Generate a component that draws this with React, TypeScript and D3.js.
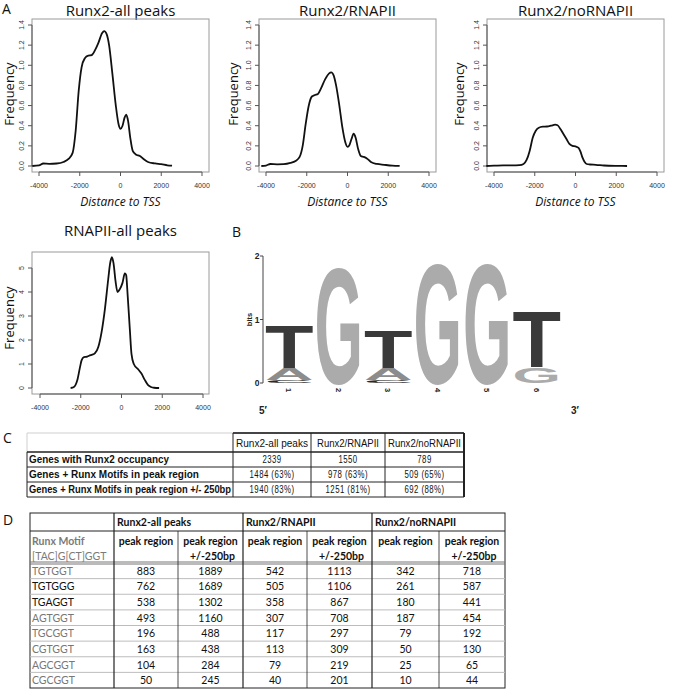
import React, { useEffect, useRef } from 'react';
import * as d3 from 'd3';

// ---- panel A data (density of peak distance to TSS) ----
const xTicks = [-4000, -2000, 0, 2000, 4000];
const yTicksRunx = [0, 0.2, 0.4, 0.6, 0.8, 1.0, 1.2, 1.4];
const yTicksPol = [0, 1, 2, 3, 4, 5];

const runx2AllPeaks: [number, number][] = [
  [-4330, 0], [-4000, 0.006], [-3790, 0.025], [-3500, 0.022], [-3135, 0.025], [-2800, 0.04],
  [-2550, 0.07], [-2350, 0.13], [-2200, 0.35], [-2050, 0.75], [-1910, 0.98], [-1750, 1.07],
  [-1580, 1.095], [-1420, 1.1], [-1250, 1.15], [-1090, 1.22], [-900, 1.32], [-800, 1.34],
  [-680, 1.31], [-560, 1.2], [-400, 0.92], [-230, 0.6], [-100, 0.42], [0, 0.37], [100, 0.4],
  [200, 0.48], [280, 0.51], [370, 0.45], [480, 0.28], [600, 0.15], [750, 0.115], [950, 0.1],
  [1100, 0.075], [1350, 0.04], [1700, 0.025], [2000, 0.018], [2300, 0.007], [2530, 0.003],
];
const runx2RNAPII: [number, number][] = [
  [-4230, 0], [-4000, 0.004], [-3790, 0.02], [-3450, 0.017], [-3135, 0.018], [-2800, 0.03],
  [-2550, 0.05], [-2350, 0.09], [-2200, 0.2], [-2050, 0.42], [-1900, 0.6], [-1750, 0.69],
  [-1600, 0.705], [-1450, 0.715], [-1300, 0.77], [-1100, 0.86], [-900, 0.92], [-800, 0.93],
  [-680, 0.9], [-560, 0.8], [-400, 0.6], [-250, 0.38], [-100, 0.23], [0, 0.19], [100, 0.21],
  [200, 0.27], [300, 0.32], [400, 0.28], [520, 0.17], [650, 0.1], [800, 0.09], [950, 0.075],
  [1150, 0.04], [1450, 0.02], [1800, 0.012], [2200, 0.004], [2560, 0.001],
];
const runx2NoRNAPII: [number, number][] = [
  [-4376, 0], [-4000, 0.003], [-3550, 0.007], [-3100, 0.006], [-2750, 0.008], [-2550, 0.02],
  [-2400, 0.06], [-2250, 0.15], [-2100, 0.28], [-1950, 0.35], [-1800, 0.38], [-1600, 0.39],
  [-1400, 0.392], [-1200, 0.4], [-1000, 0.41], [-880, 0.405], [-750, 0.37], [-600, 0.32],
  [-450, 0.27], [-300, 0.22], [-150, 0.2], [0, 0.195], [150, 0.18], [250, 0.14], [350, 0.08],
  [450, 0.04], [550, 0.02], [700, 0.015], [1000, 0.012], [1400, 0.005], [2000, 0.001], [2530, 0],
];
const rnapIIAllPeaks: [number, number][] = [
  [-2498, 0], [-2335, 0.04], [-2171, 0.32], [-2041, 0.85], [-1960, 1.15], [-1845, 1.29],
  [-1682, 1.31], [-1518, 1.37], [-1400, 1.4], [-1300, 1.45], [-1143, 1.7], [-980, 2.32],
  [-816, 3.28], [-653, 4.52], [-555, 5.21], [-473, 5.45], [-392, 5.2], [-294, 4.46], [-196, 4.0],
  [-82, 4.12], [49, 4.38], [163, 4.77], [229, 4.7], [294, 3.97], [408, 2.46], [490, 1.42],
  [604, 1.0], [816, 0.78], [980, 0.6], [1143, 0.34], [1306, 0.12], [1450, 0.04], [1600, 0.01], [1845, 0],
];

// ---- panel B: sequence logo (bits per letter, bottom to top) ----
const logoPositions = [1, 2, 3, 4, 5, 6];
const logoStacks: [string, number][][] = [
  [['C', 0.04], ['A', 0.2], ['T', 0.7]],
  [['G', 1.9]],
  [['C', 0.05], ['A', 0.19], ['T', 0.63]],
  [['G', 1.98]],
  [['G', 1.98]],
  [['G', 0.25], ['T', 0.93]],
];
const letterColors: Record<string, string> = { T: '#3a3a3a', G: '#ababab', A: '#8c8c8c', C: '#2a2a2a' };

// ---- panel C ----
const cHeaders = ['Runx2-all peaks', 'Runx2/RNAPII', 'Runx2/noRNAPII'];
const cRowLabels = [
  'Genes with Runx2 occupancy',
  'Genes + Runx Motifs in peak region',
  'Genes + Runx Motifs in peak region +/- 250bp',
];
const cValues = [
  ['2339', '1550', '789'],
  ['1484 (63%)', '978 (63%)', '509 (65%)'],
  ['1940 (83%)', '1251 (81%)', '692 (88%)'],
];

// ---- panel D ----
const dGroups = ['Runx2-all peaks', 'Runx2/RNAPII', 'Runx2/noRNAPII'];
const dMotifs = ['TGTGGT', 'TGTGGG', 'TGAGGT', 'AGTGGT', 'TGCGGT', 'CGTGGT', 'AGCGGT', 'CGCGGT'];
const dMotifDark = [false, true, true, false, false, false, false, false];
const dPeakAll = [883, 762, 538, 493, 196, 163, 104, 50];
const dWideAll = [1889, 1689, 1302, 1160, 488, 438, 284, 245];
const dPeakPol = [542, 505, 358, 307, 117, 113, 79, 40];
const dWidePol = [1113, 1106, 867, 708, 297, 309, 219, 201];
const dPeakNoPol = [342, 261, 180, 187, 79, 50, 25, 10];
const dWideNoPol = [718, 587, 441, 454, 192, 130, 65, 44];

const TITLE_FONT = "'Open Sans', 'Noto Sans', sans-serif";
const R_FONT = "'Liberation Sans', Arial, sans-serif";
const CAL = "Lato, 'Open Sans', sans-serif";

type PanelProps = {
  title: string; data: [number, number][]; box: [number, number, number, number];
  xr: [number, number]; yDomain: [number, number]; yRange: [number, number];
  yTicks: number[]; fmt: (v: number) => string; titleY: number; freqX: number; freqY: number;
  xlab: boolean;
};

function DensityPanel(p: PanelProps) {
  const [l, r, t, b] = p.box;
  const x = d3.scaleLinear().domain([-4000, 4000]).range(p.xr);
  const y = d3.scaleLinear().domain(p.yDomain).range(p.yRange);
  const line = d3.line<[number, number]>().x(d => x(d[0])).y(d => y(d[1])).curve(d3.curveMonotoneX);
  const cx = (l + r) / 2;
  return (
    <g>
      <text x={cx} y={p.titleY} textAnchor="middle" fontFamily={TITLE_FONT} fontSize={15} fill="#111">{p.title}</text>
      <rect x={l} y={t} width={r - l} height={b - t} fill="none" stroke="#9a9a9a" strokeWidth={1} />
      <line x1={x(xTicks[0])} x2={x(xTicks[xTicks.length - 1])} y1={b} y2={b} stroke="#555" />
      {xTicks.map(v => (
        <g key={v}>
          <line x1={x(v)} x2={x(v)} y1={b} y2={b + 4} stroke="#555" />
          <text x={x(v)} y={b + 16} textAnchor="middle" fontFamily={R_FONT} fontSize={7} fill="#333">{v}</text>
        </g>
      ))}
      <line x1={l} x2={l} y1={y(p.yTicks[0])} y2={y(p.yTicks[p.yTicks.length - 1])} stroke="#555" />
      {p.yTicks.map(v => (
        <g key={v}>
          <line x1={l - 4} x2={l} y1={y(v)} y2={y(v)} stroke="#555" />
          <text transform={`translate(${l - 8},${y(v)}) rotate(-90)`} textAnchor="middle" fontFamily={R_FONT} fontSize={7} fill="#333">{p.fmt(v)}</text>
        </g>
      ))}
      <text transform={`translate(${p.freqX},${p.freqY}) rotate(-90)`} textAnchor="middle" fontFamily={TITLE_FONT} fontSize={13} fill="#111">Frequency</text>
      {p.xlab && (
        <text x={cx} y={b + 34} textAnchor="middle" fontFamily={TITLE_FONT} fontStyle="italic" fontSize={12} fill="#111">Distance to TSS</text>
      )}
      <path d={line(p.data) || ''} fill="none" stroke="#111" strokeWidth={1.8} />
    </g>
  );
}

function Logo() {
  const ref = useRef<SVGGElement>(null);
  const xb = d3.scaleBand<number>().domain(logoPositions).range([265, 561]).paddingInner(0.02);
  const yb = d3.scaleLinear().domain([0, 2]).range([383, 256]);
  useEffect(() => {
    const g = d3.select(ref.current);
    g.selectAll('*').remove();
    logoStacks.forEach((stack, i) => {
      let base = 0;
      stack.forEach(([ch, h]) => {
        const x0 = xb(logoPositions[i]) as number;
        const w = xb.bandwidth();
        const yTop = yb(base + h);
        const yBot = yb(base);
        base += h;
        const txt = g.append('text')
          .attr('font-family', "'Liberation Sans', Arial, sans-serif")
          .attr('font-weight', 'bold')
          .attr('font-size', 100)
          .attr('fill', letterColors[ch])
          .text(ch);
        const bb = (txt.node() as SVGTextElement).getBBox();
        // map the cap-height band of the glyph onto the stack slot
        const inkTop = bb.y + bb.height * 0.158;
        const inkH = bb.height * 0.655;
        const sx = w / bb.width;
        const sy = (yBot - yTop) / inkH;
        txt.attr('transform', `translate(${x0 - bb.x * sx},${yTop - inkTop * sy}) scale(${sx},${sy})`);
      });
    });
  }, []);
  return (
    <g>
      <text x={232} y={237} fontFamily={TITLE_FONT} fontSize={14} fill="#111">B</text>
      <line x1={263} x2={263} y1={yb(2)} y2={yb(0)} stroke="#444" />
      {[0, 1, 2].map(v => (
        <g key={v}>
          <line x1={260} x2={263} y1={yb(v)} y2={yb(v)} stroke="#444" />
          <text x={259.5} y={yb(v) + 3} textAnchor="end" fontFamily={R_FONT} fontWeight="bold" fontSize={8.5} fill="#222">{v}</text>
        </g>
      ))}
      <text transform={`translate(252,${yb(1)}) rotate(-90)`} textAnchor="middle" fontFamily={R_FONT} fontWeight="bold" fontSize={7.5} fill="#222">bits</text>
      <g ref={ref} />
      {logoPositions.map(p => (
        <text key={p} transform={`translate(${(xb(p) as number) + xb.bandwidth() / 2 - 3},388) rotate(90)`} fontFamily={R_FONT} fontWeight="bold" fontSize={7.5} fill="#222">{p}</text>
      ))}
      <text x={263} y={414} textAnchor="middle" fontFamily={R_FONT} fontWeight="bold" fontSize={10} fill="#222">5′</text>
      <text x={575} y={414} textAnchor="middle" fontFamily={R_FONT} fontWeight="bold" fontSize={10} fill="#222">3′</text>
    </g>
  );
}

// condensed text: glyphs squeezed horizontally, like a narrow face
function Narrow({ x, y, anchor, bold, sx = 0.8, size = 10, children }: { x: number; y: number; anchor?: string; bold?: boolean; sx?: number; size?: number; children: React.ReactNode }) {
  return (
    <g transform={`translate(${x},${y}) scale(${sx},1)`}>
      <text textAnchor={anchor || 'start'} fontFamily={R_FONT} fontWeight={bold ? 'bold' : 'normal'} fontSize={size} letterSpacing={0.6} fill="#111">{children}</text>
    </g>
  );
}

function TableC() {
  const cols = [27, 233, 311, 385, 464];
  const rows = [433, 452, 467, 482, 497];
  const labelW = [140, 170, 202];
  const headW = [72, 62, 73];
  return (
    <g>
      <text x={3} y={443} fontFamily={TITLE_FONT} fontSize={14} fill="#111">C</text>
      <line x1={cols[0]} x2={cols[1]} y1={rows[0]} y2={rows[0]} stroke="#cfcfcf" />
      <line x1={cols[0]} x2={cols[0]} y1={rows[0]} y2={rows[1]} stroke="#cfcfcf" />
      <line x1={cols[1]} x2={cols[4]} y1={rows[0]} y2={rows[0]} stroke="#444" strokeWidth={2} />
      {rows.slice(1).map(y => (
        <line key={y} x1={cols[0]} x2={cols[4]} y1={y} y2={y} stroke="#222" strokeWidth={y === rows[1] ? 1.6 : 1} />
      ))}
      <line x1={cols[0]} x2={cols[0]} y1={rows[1]} y2={rows[4]} stroke="#222" />
      {cols.slice(1).map((x, i) => (
        <line key={x} x1={x} x2={x} y1={rows[0]} y2={rows[4]} stroke="#222" strokeWidth={i === 3 ? 2 : 1} />
      ))}
      {cHeaders.map((h, i) => (
        <text key={h} x={(cols[i + 1] + cols[i + 2]) / 2 - headW[i] / 2} y={rows[0] + 13.5} textLength={headW[i]} lengthAdjust="spacingAndGlyphs"
          fontFamily={R_FONT} fontSize={10} fill="#111">{h}</text>
      ))}
      {cRowLabels.map((lab, j) => (
        <text key={lab} x={cols[0] + 2} y={rows[j + 1] + 11} textLength={labelW[j]} lengthAdjust="spacingAndGlyphs"
          fontFamily={R_FONT} fontWeight="bold" fontSize={10} fill="#111">{lab}</text>
      ))}
      {cValues.map((row, j) => row.map((v, i) => (
        <Narrow key={`${j}-${i}`} x={(cols[i + 1] + cols[i + 2]) / 2} y={rows[j + 1] + 11} anchor="middle" sx={0.78}>{v}</Narrow>
      )))}
    </g>
  );
}

function TableD() {
  const cols = [30, 114, 178, 243, 307, 372, 439, 505];
  const top = 513;
  const groupBottom = 531;
  const headBottom = 563;
  const bottom = 688;
  const rowY = d3.scaleLinear().domain([0, dMotifs.length]).range([headBottom, bottom]);
  const colVals = [dPeakAll, dWideAll, dPeakPol, dWidePol, dPeakNoPol, dWideNoPol];
  return (
    <g>
      <text x={3} y={525} fontFamily={TITLE_FONT} fontSize={14} fill="#111">D</text>
      <rect x={cols[0]} y={top} width={cols[7] - cols[0]} height={bottom - top} fill="none" stroke="#222" />
      <line x1={cols[0]} x2={cols[7]} y1={groupBottom} y2={groupBottom} stroke="#222" />
      <line x1={cols[0]} x2={cols[7]} y1={headBottom - 1} y2={headBottom - 1} stroke="#777" />
      <line x1={cols[0]} x2={cols[7]} y1={headBottom + 1} y2={headBottom + 1} stroke="#777" />
      {dMotifs.slice(1).map((m, i) => (
        <line key={m} x1={cols[0]} x2={cols[7]} y1={rowY(i + 1)} y2={rowY(i + 1)} stroke="#bdbdbd" />
      ))}
      {cols.slice(1, 7).map((x, i) => (
        <line key={x} x1={x} x2={x} y1={i % 2 === 0 ? top : groupBottom} y2={bottom} stroke="#222" strokeWidth={i % 2 === 0 ? 1.2 : 0.8} />
      ))}
      {dGroups.map((g, i) => (
        <text key={g} x={cols[1 + i * 2] + 3} y={top + 12.5} fontFamily={CAL} fontWeight="bold" fontSize={10.5} fill="#111">{g}</text>
      ))}
      <text x={cols[0] + 2} y={545} fontFamily={CAL} fontWeight="bold" fontSize={10.5} fill="#7a7a7a">Runx Motif</text>
      <text x={cols[0] + 2} y={560} fontFamily={CAL} fontSize={10.5} fill="#7a7a7a">[TAC]G[CT]GGT</text>
      {[0, 1, 2, 3, 4, 5].map(i => (
        <g key={i}>
          <text x={(cols[i + 1] + cols[i + 2]) / 2} y={545} textAnchor="middle" fontFamily={CAL} fontWeight="bold" fontSize={10.5} fill="#111">peak region</text>
          {i % 2 === 1 && (
            <text x={(cols[i + 1] + cols[i + 2]) / 2 + 2} y={560} textAnchor="middle" fontFamily={CAL} fontWeight="bold" fontSize={10.5} fill="#111">+/-250bp</text>
          )}
        </g>
      ))}
      {dMotifs.map((m, j) => {
        const yc = (rowY(j) + rowY(j + 1)) / 2 + 4;
        return (
          <g key={m}>
            <text x={cols[0] + 2} y={yc} fontFamily={CAL} fontSize={10.5} fill={dMotifDark[j] ? '#111' : '#777'}>{m}</text>
            {colVals.map((vals, i) => (
              <text key={i} x={(cols[i + 1] + cols[i + 2]) / 2} y={yc} textAnchor="middle" fontFamily={CAL} fontSize={10.5} fill="#111">{vals[j]}</text>
            ))}
          </g>
        );
      })}
    </g>
  );
}

export default function App() {
  useEffect(() => {
    document.body.style.margin = '0';
  }, []);
  const fmt1 = d3.format('.1f');
  const fmt0 = d3.format('d');
  return (
    <svg width={685} height={690} style={{ display: 'block', background: '#fff' }}>
      <rect width={685} height={690} fill="#fff" />
      <text x={2} y={14} fontFamily={TITLE_FONT} fontSize={14} fill="#111">A</text>
      <DensityPanel title="Runx2-all peaks" data={runx2AllPeaks} box={[32, 209, 19, 172]} xr={[39, 202]}
        yDomain={[0, 1.4]} yRange={[166, 25]} yTicks={yTicksRunx} fmt={fmt1} titleY={16} freqX={14} freqY={94} xlab />
      <DensityPanel title="Runx2/RNAPII" data={runx2RNAPII} box={[259, 436, 19, 172]} xr={[266, 429]}
        yDomain={[0, 1.4]} yRange={[166, 25]} yTicks={yTicksRunx} fmt={fmt1} titleY={16} freqX={238} freqY={94} xlab />
      <DensityPanel title="Runx2/noRNAPII" data={runx2NoRNAPII} box={[487, 664, 19, 172]} xr={[494, 657]}
        yDomain={[0, 1.4]} yRange={[166, 25]} yTicks={yTicksRunx} fmt={fmt1} titleY={16} freqX={464} freqY={94} xlab />
      <DensityPanel title="RNAPII-all peaks" data={rnapIIAllPeaks} box={[32, 209, 252, 394]} xr={[40, 203]}
        yDomain={[0, 5]} yRange={[388, 268]} yTicks={yTicksPol} fmt={fmt0} titleY={236} freqX={14} freqY={318} xlab={false} />
      <Logo />
      <TableC />
      <TableD />
    </svg>
  );
}
